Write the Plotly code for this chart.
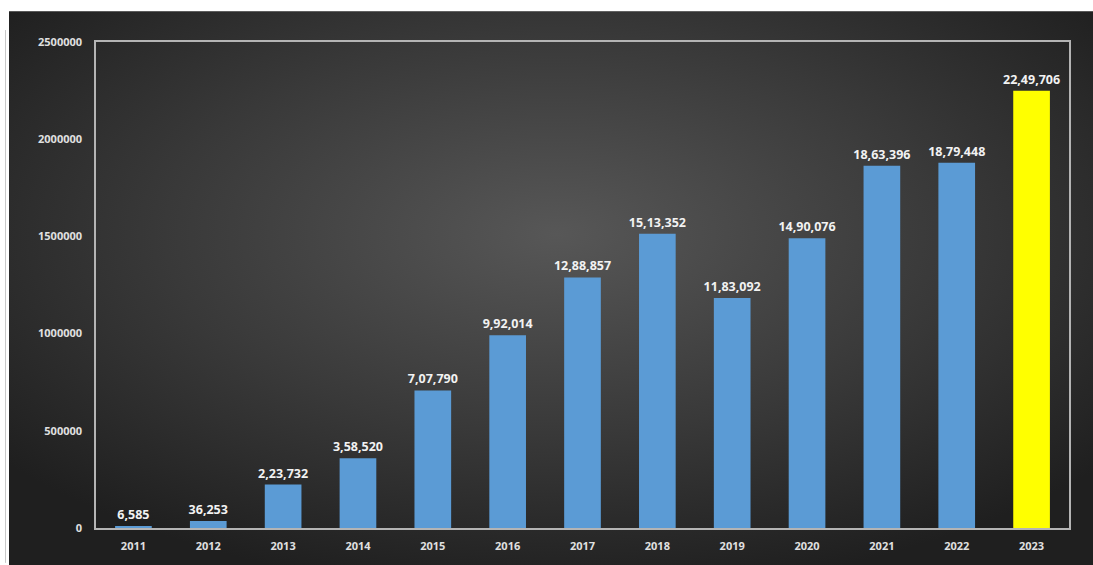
import plotly.graph_objects as go
import base64

years = ["2011", "2012", "2013", "2014", "2015", "2016", "2017", "2018", "2019", "2020", "2021", "2022", "2023"]
values = [6585, 36253, 223732, 358520, 707790, 992014, 1288857, 1513352, 1183092, 1490076, 1863396, 1879448, 2249706]
labels = ["6,585", "36,253", "2,23,732", "3,58,520", "7,07,790", "9,92,014", "12,88,857",
          "15,13,352", "11,83,092", "14,90,076", "18,63,396", "18,79,448", "22,49,706"]
y_ticks = [0, 500000, 1000000, 1500000, 2000000, 2500000]
y_tick_text = ["0", "500000", "1000000", "1500000", "2000000", "2500000"]

colors = ["#5b9bd5"] * (len(years) - 1) + ["#ffff00"]

svg = ('<svg xmlns="http://www.w3.org/2000/svg" width="1100" height="560" viewBox="0 0 1100 560" preserveAspectRatio="none">'
       '<defs><radialGradient id="g" cx="50%" cy="40%" r="65%">'
       '<stop offset="0%" stop-color="#575757"/><stop offset="55%" stop-color="#393939"/>'
       '<stop offset="100%" stop-color="#1f1f1f"/></radialGradient></defs>'
       '<rect width="1100" height="560" fill="url(#g)"/></svg>')
src = "data:image/svg+xml;base64," + base64.b64encode(svg.encode()).decode()

W, H = 1093, 565
L, R, T, B = 96, 24, 42, 35
pw, ph = W - L - R, H - T - B

def px_x(p):
    return (p - L) / pw

def px_y(p):
    return (H - B - p) / ph

fig = go.Figure()
fig.add_trace(go.Bar(
    x=years, y=values, text=labels, textposition="outside", constraintext="none",
    marker=dict(color=colors, line=dict(width=0)),
    textfont=dict(color="#f2f2f2", size=12.5, family="Open Sans", weight="bold"),
    cliponaxis=False, width=0.49,
))

fig.add_layout_image(dict(
    source=src, xref="paper", yref="paper",
    x=px_x(9), y=px_y(11), sizex=px_x(1105) - px_x(9), sizey=px_y(11) - px_y(570),
    sizing="stretch", layer="below", xanchor="left", yanchor="top",
))
fig.add_shape(type="rect", xref="paper", yref="paper", layer="above",
              x0=px_x(-5), x1=px_x(1100), y0=px_y(11), y1=px_y(-5),
              fillcolor="white", line=dict(width=0))
fig.add_shape(type="rect", xref="paper", yref="paper", layer="above",
              x0=px_x(-5), x1=px_x(9), y0=px_y(570), y1=px_y(-5),
              fillcolor="white", line=dict(width=0))
fig.add_shape(type="line", xref="paper", yref="paper", layer="above",
              x0=px_x(5.5), x1=px_x(5.5), y0=px_y(30), y1=px_y(565),
              line=dict(color="#c8c8c8", width=1))

fig.update_layout(
    autosize=True,
    margin=dict(l=L, r=R, t=T, b=B),
    paper_bgcolor="#1f1f1f", plot_bgcolor="rgba(0,0,0,0)",
    showlegend=False,
    xaxis=dict(showline=True, mirror=True, linecolor="#b4b4b4", linewidth=1.5,
               ticks="outside", ticklen=7, tickcolor="rgba(0,0,0,0)",
               tickfont=dict(color="#e0e0e0", size=11, family="Open Sans", weight="bold"),
               showgrid=False),
    yaxis=dict(range=[0, 2500000], tickvals=y_ticks, ticktext=y_tick_text,
               showline=True, mirror=True, linecolor="#b4b4b4", linewidth=1.5,
               ticks="outside", ticklen=10, tickcolor="rgba(0,0,0,0)",
               tickfont=dict(color="#e0e0e0", size=11, family="Open Sans", weight="bold"),
               showgrid=False, zeroline=False),
)

fig.write_html("out.html", default_width="100vw", default_height="100vh")
